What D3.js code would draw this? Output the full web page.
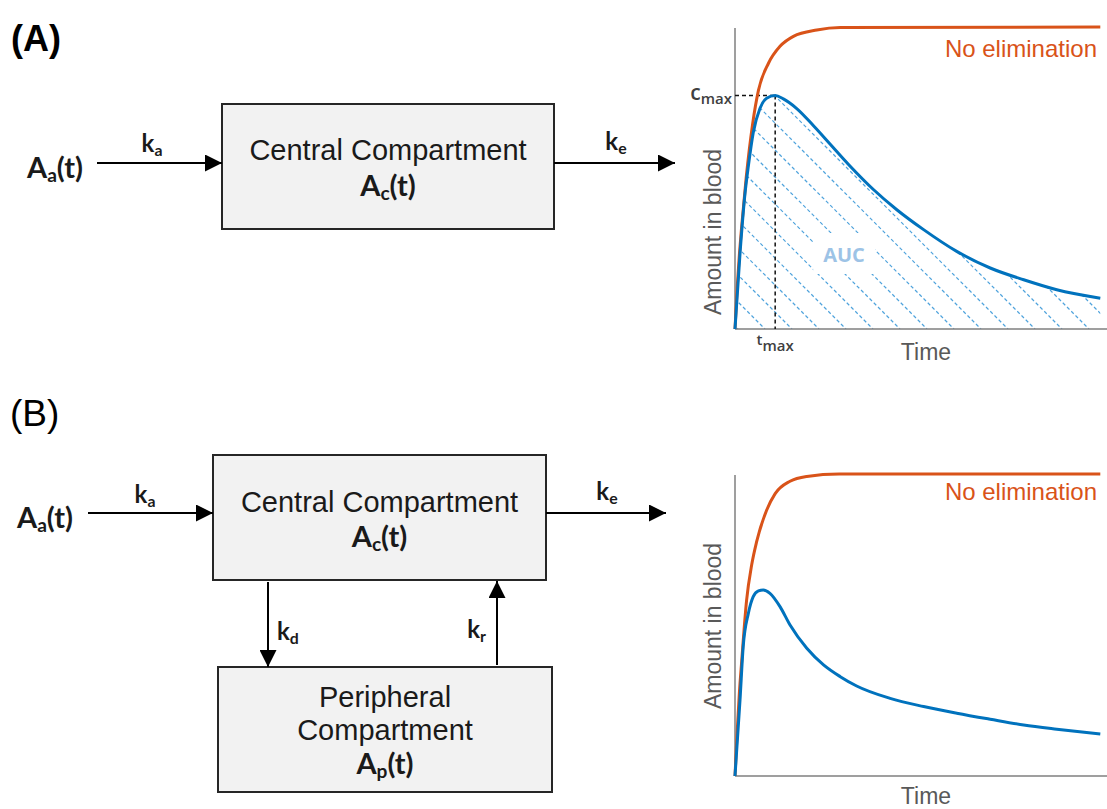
<!DOCTYPE html>
<html>
<head>
<meta charset="utf-8">
<script src="https://cdn.jsdelivr.net/npm/d3@7"></script>
<style>
body { margin: 0; background: #fff; }
svg { display: block; }
.box { fill: #f2f2f2; stroke: #262626; stroke-width: 2; }
.flow { stroke: #000; stroke-width: 2; fill: none; }
.plain { font-family: 'Liberation Sans', Arial, sans-serif; fill: #1a1a1a; font-size: 29px; }
.sym { font-family: Lato, 'Open Sans', sans-serif; font-weight: bold; fill: #1a1a1a; }
.axis-line { stroke: #7f7f7f; stroke-width: 1.5; }
.ax-title { font-family: 'Liberation Sans', Arial, sans-serif; fill: #595959; font-size: 23px; }
.no-elim { font-family: 'Liberation Sans', Arial, sans-serif; fill: #D95319; font-size: 24px; }
.mark { font-family: 'Open Sans', sans-serif; fill: #404040; font-weight: 600; }
</style>
</head>
<body>
<script>
// panel A: one compartment
const noElimTimeA   = [0, 0.6, 1.2, 1.8, 3.0, 4.75, 6.3, 9.0, 12.1, 15.7, 22, 28.3, 98.2];
const noElimAmountA = [0, 14, 25, 34, 50, 68, 79, 88, 93.6, 96.9, 99, 99.8, 100];
const bloodTimeA    = [0, 1.35, 2.7, 3.6, 4.9, 6.7, 8.5, 10.8, 13, 16.6, 21.1, 25.6, 30.9, 37.2, 43.5, 50.7, 59.6, 68.6, 77.6, 86.5, 98.2];
const bloodAmountA  = [0, 25, 45, 54, 65, 73, 76.4, 77.3, 76.2, 73, 67.3, 61.2, 54, 46.2, 39.5, 32.9, 25.7, 20.2, 16.3, 13, 10.2];

// panel B: two compartments
const noElimTimeB   = [0, 0.6, 1.2, 1.8, 3.1, 4.5, 5.8, 8.5, 10.8, 14.8, 19.3, 28, 98.2];
const noElimAmountB = [0, 15, 28, 38, 58, 70, 77.5, 88, 93.5, 97.6, 99.2, 100, 100];
const bloodTimeB    = [0, 1.35, 2.2, 3.6, 4.9, 6.3, 7.6, 9.4, 12.1, 14.8, 19.3, 23.8, 28.3, 32.7, 41.7, 50.7, 59.6, 68.6, 77.6, 86.5, 98.2];
const bloodAmountB  = [0, 25.2, 42.8, 53.9, 59.4, 61.3, 61.6, 60.5, 56.1, 50, 42.3, 36.8, 32.9, 29.8, 25.7, 23, 20.8, 18.8, 16.9, 15.5, 13.9];

const ORANGE = '#D95319';
const BLUE = '#0072BD';

const W = 1107, H = 809;

let svg = d3.select('body').append('svg')
  .attr('width', W)
  .attr('height', H);

let defs = svg.append('defs');

defs.append('marker')
  .attr('id', 'arrowhead')
  .attr('viewBox', '0 -5 10 10')
  .attr('refX', 10)
  .attr('refY', 0)
  .attr('orient', 'auto')
  .attr('markerUnits', 'userSpaceOnUse')
  .attr('markerWidth', 17)
  .attr('markerHeight', 17)
  .append('path')
  .attr('d', 'M 0,-5 L 10,0 L 0,5 Z')
  .attr('fill', '#000');

function zip(xs, ys)
{
  return xs.map((x, i) => ({t: x, v: ys[i]}));
}

// text like A_a(t), k_e ...
function symbol(g, x, y, main, sub, tail, size, anchor)
{
  let t = g.append('text')
    .attr('class', 'sym')
    .attr('x', x)
    .attr('y', y)
    .attr('font-size', size)
    .attr('text-anchor', anchor || 'middle');
  let drop = Math.round(size * 0.15);
  t.append('tspan').text(main);
  t.append('tspan').attr('font-size', size * 0.66).attr('dy', drop).text(sub);
  if (tail) t.append('tspan').attr('dy', -drop).text(tail);
  return t;
}

function arrow(g, x1, y1, x2, y2)
{
  g.append('line')
    .attr('class', 'flow')
    .attr('x1', x1).attr('y1', y1)
    .attr('x2', x2).attr('y2', y2)
    .attr('marker-end', 'url(#arrowhead)');
}

function box(g, b)
{
  g.append('rect')
    .attr('class', 'box')
    .attr('x', b.x).attr('y', b.y)
    .attr('width', b.w).attr('height', b.h);
}

function plainLine(g, x, y, str)
{
  g.append('text')
    .attr('class', 'plain')
    .attr('x', x).attr('y', y)
    .attr('text-anchor', 'middle')
    .text(str);
}

// ---------- panel labels ----------
svg.append('text')
  .attr('x', 11).attr('y', 51)
  .style('font', 'bold 36px "Liberation Sans", Arial, sans-serif')
  .text('(A)');

svg.append('text')
  .attr('x', 10).attr('y', 426)
  .style('font', '37px "Liberation Sans", Arial, sans-serif')
  .text('(B)');

// ---------- diagram A ----------
let diagA = svg.append('g');
let centralA = {x: 222, y: 104, w: 332, h: 125};
box(diagA, centralA);
plainLine(diagA, centralA.x + centralA.w / 2, 160, 'Central Compartment');
symbol(diagA, centralA.x + centralA.w / 2, 196, 'A', 'c', '(t)', 29);
arrow(diagA, 97, 163, centralA.x, 163);
arrow(diagA, centralA.x + centralA.w, 163, 675, 163);
symbol(diagA, 55, 178, 'A', 'a', '(t)', 29);
symbol(diagA, 152, 152, 'k', 'a', null, 24);
symbol(diagA, 616, 150, 'k', 'e', null, 24);

// ---------- diagram B ----------
let diagB = svg.append('g');
let centralB = {x: 213, y: 455, w: 333, h: 125};
let periphB = {x: 218, y: 667, w: 334, h: 125};
box(diagB, centralB);
box(diagB, periphB);
plainLine(diagB, centralB.x + centralB.w / 2, 512, 'Central Compartment');
symbol(diagB, centralB.x + centralB.w / 2, 547, 'A', 'c', '(t)', 29);
plainLine(diagB, periphB.x + periphB.w / 2, 707, 'Peripheral');
plainLine(diagB, periphB.x + periphB.w / 2, 740, 'Compartment');
symbol(diagB, periphB.x + periphB.w / 2, 774, 'A', 'p', '(t)', 29);

arrow(diagB, 88, 513, centralB.x, 513);
arrow(diagB, centralB.x + centralB.w, 513, 666, 513);
arrow(diagB, 268, centralB.y + centralB.h + 2, 268, periphB.y);
arrow(diagB, 497, periphB.y - 2, 497, centralB.y + centralB.h + 1);
symbol(diagB, 45, 528, 'A', 'a', '(t)', 29);
symbol(diagB, 145, 503, 'k', 'a', null, 24);
symbol(diagB, 607, 500, 'k', 'e', null, 24);
symbol(diagB, 277, 640, 'k', 'd', null, 24, 'start');
symbol(diagB, 486, 638, 'k', 'r', null, 24, 'end');

// ---------- charts ----------
function drawChart(cfg)
{
  let g = svg.append('g');

  let x = d3.scaleLinear().domain([0, 100]).range([735, 1107]);
  let y = d3.scaleLinear().domain([0, 100]).range([cfg.bottom, cfg.top]);

  let line = d3.line()
    .x(d => x(d.t))
    .y(d => y(d.v))
    .curve(d3.curveMonotoneX);

  let blood = zip(cfg.bloodTime, cfg.bloodAmount);
  let noElim = zip(cfg.noElimTime, cfg.noElimAmount);

  if (cfg.auc) {
    let area = d3.area()
      .x(d => x(d.t))
      .y0(y(0))
      .y1(d => y(d.v))
      .curve(d3.curveMonotoneX);

    defs.append('clipPath')
      .attr('id', 'auc-clip')
      .append('path')
      .attr('d', area(blood));

    let span = y(0) - y(100);
    let hatch = g.append('g').attr('clip-path', 'url(#auc-clip)');
    hatch.selectAll('line')
      .data(d3.range(-2, 30))
      .enter()
      .append('line')
      .attr('x1', k => 765 + 27 * k - span)
      .attr('y1', y(100))
      .attr('x2', k => 765 + 27 * k)
      .attr('y2', y(0))
      .attr('stroke', '#4fa3dc')
      .attr('stroke-width', 1.2)
      .attr('stroke-dasharray', '3.5,2.5');
  }

  // axes
  g.append('line')
    .attr('class', 'axis-line')
    .attr('x1', x(0)).attr('x2', x(0))
    .attr('y1', y(0)).attr('y2', y(100) + 1);
  g.append('line')
    .attr('class', 'axis-line')
    .attr('x1', x(0)).attr('x2', x(100))
    .attr('y1', y(0)).attr('y2', y(0));

  if (cfg.auc) {
    let peak = blood[d3.maxIndex(blood, d => d.v)];
    let px = x(peak.t), py = y(peak.v);

    g.append('line')
      .attr('x1', x(0)).attr('x2', px)
      .attr('y1', py).attr('y2', py)
      .attr('stroke', '#111').attr('stroke-width', 1.5)
      .attr('stroke-dasharray', '4,3');
    g.append('line')
      .attr('x1', px).attr('x2', px)
      .attr('y1', py).attr('y2', y(0))
      .attr('stroke', '#111').attr('stroke-width', 1.5)
      .attr('stroke-dasharray', '4,3');

    let cm = g.append('text')
      .attr('class', 'mark')
      .attr('x', x(0) - 3)
      .attr('y', py + 4)
      .attr('text-anchor', 'end');
    cm.append('tspan').attr('font-size', 21).text('c');
    cm.append('tspan').attr('font-size', 15).attr('dy', 4).text('max');

    let tm = g.append('text')
      .attr('class', 'mark')
      .attr('x', px)
      .attr('y', y(0) + 16)
      .attr('text-anchor', 'middle');
    tm.append('tspan').attr('font-size', 15).text('t');
    tm.append('tspan').attr('font-size', 15).attr('dy', 6).text('max');

    // AUC label with a white patch behind it
    let auc = g.append('text')
      .attr('x', 844)
      .attr('y', 262)
      .attr('text-anchor', 'middle')
      .style('font', 'bold 20px "Open Sans", sans-serif')
      .attr('fill', '#9dc3e6')
      .text('AUC');
    let bb = auc.node().getBBox();
    g.insert('rect', 'text')
      .attr('x', bb.x - 10).attr('y', bb.y - 8)
      .attr('width', bb.width + 20).attr('height', bb.height + 14)
      .attr('fill', '#fff');
  }

  g.append('path')
    .attr('d', line(noElim))
    .attr('fill', 'none')
    .attr('stroke', ORANGE)
    .attr('stroke-width', 3);

  g.append('path')
    .attr('d', line(blood))
    .attr('fill', 'none')
    .attr('stroke', BLUE)
    .attr('stroke-width', 3);

  g.append('text')
    .attr('class', 'no-elim')
    .attr('x', 1097)
    .attr('y', cfg.labelY)
    .attr('text-anchor', 'end')
    .text('No elimination');

  g.append('text')
    .attr('class', 'ax-title')
    .attr('transform', `translate(721, ${cfg.ylabelY}) rotate(-90)`)
    .attr('text-anchor', 'middle')
    .text('Amount in blood');

  g.append('text')
    .attr('class', 'ax-title')
    .attr('x', 926)
    .attr('y', cfg.timeY)
    .attr('text-anchor', 'middle')
    .text('Time');
}

drawChart({
  top: 27, bottom: 329, labelY: 57, timeY: 360, ylabelY: 232, auc: true,
  bloodTime: bloodTimeA, bloodAmount: bloodAmountA,
  noElimTime: noElimTimeA, noElimAmount: noElimAmountA
});

drawChart({
  top: 474, bottom: 776, labelY: 500, timeY: 804, ylabelY: 626, auc: false,
  bloodTime: bloodTimeB, bloodAmount: bloodAmountB,
  noElimTime: noElimTimeB, noElimAmount: noElimAmountB
});
</script>
</body>
</html>
